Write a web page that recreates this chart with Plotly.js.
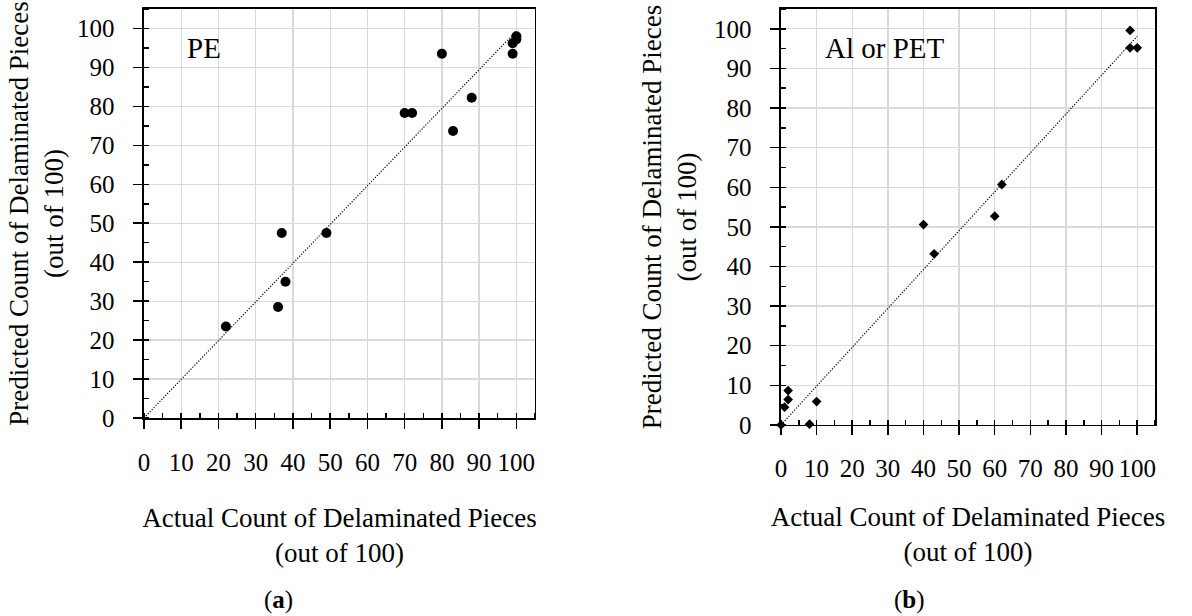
<!DOCTYPE html>
<html>
<head>
<meta charset="utf-8">
<script src="https://cdn.plot.ly/plotly-3.0.1.min.js"></script>
<style>html,body{margin:0;padding:0;background:#fff;}#chart{width:1192px;height:616px;}</style>
</head>
<body>
<div id="chart"></div>
<script>
// Panel (a): PE
const peActual    = [22, 36, 37, 38, 49, 70, 72, 80, 83, 88, 99, 99, 100, 100];
const pePredicted = [23.5, 28.5, 47.5, 35, 47.5, 78.3, 78.3, 93.5, 73.7, 82.2, 93.5, 96.2, 97.2, 98];
// Panel (b): Al or PET
const alActual    = [0, 1, 2, 2, 8, 10, 40, 43, 60, 62, 98, 98, 100];
const alPredicted = [0, 4.5, 6.4, 8.7, 0.2, 5.9, 50.6, 43.2, 52.7, 60.7, 99.6, 95.2, 95.2];
const tickValues = [0, 10, 20, 30, 40, 50, 60, 70, 80, 90, 100];
const tickLabels = ["0", "10", "20", "30", "40", "50", "60", "70", "80", "90", "100"];
const xTitle = "Actual Count of Delaminated Pieces<br>(out of 100)";
const yTitle = "Predicted Count of Delaminated Pieces<br>(out of 100)";
const panelLabels = ["PE", "Al or PET"];
const panelLetters = ["(<b>a</b>)", "(<b>b</b>)"];

// linear trendline through origin, fitted from the data
function fitLine(xs, ys) {
  let sxy = 0, sxx = 0;
  for (let i = 0; i < xs.length; i++) { sxy += xs[i] * ys[i]; sxx += xs[i] * xs[i]; }
  const k = sxy / sxx;
  const xmax = Math.max(...xs);
  return { x: [0, xmax], y: [0, k * xmax] };
}
const fitA = fitLine(peActual, pePredicted);
const fitB = fitLine(alActual, alPredicted);

const FONT = "Liberation Serif, Times New Roman, serif";

const traces = [
  { x: fitA.x, y: fitA.y, xaxis: 'x', yaxis: 'y', mode: 'lines', cliponaxis: false,
    line: { color: '#000', width: 1.2, dash: '1.2px,1.6px' }, hoverinfo: 'skip' },
  { x: peActual, y: pePredicted, xaxis: 'x', yaxis: 'y', mode: 'markers', cliponaxis: false,
    marker: { symbol: 'circle', size: 10, color: '#000' }, name: 'PE' },
  { x: fitB.x, y: fitB.y, xaxis: 'x2', yaxis: 'y2', mode: 'lines', cliponaxis: false,
    line: { color: '#000', width: 1.2, dash: '1.2px,1.6px' }, hoverinfo: 'skip' },
  { x: alActual, y: alPredicted, xaxis: 'x2', yaxis: 'y2', mode: 'markers', cliponaxis: false,
    marker: { symbol: 'diamond', size: 7.5, color: '#000' }, name: 'Al or PET' }
];

function xAxis(domain, anchor, standoff) {
  return {
    domain: domain, anchor: anchor, range: [0, 105],
    tickmode: 'array', tickvals: tickValues, ticktext: tickLabels,
    ticks: 'outside', ticklen: 9, tickwidth: 1.5, tickcolor: '#000',
    minor: { dtick: 5, tick0: 0, ticks: 'inside', ticklen: 5, tickwidth: 1.5, tickcolor: '#000', showgrid: false },
    ticklabelstandoff: 12,
    showgrid: true, gridcolor: '#d9d9d9', gridwidth: 1.3,
    zeroline: false, showline: true, linecolor: '#000', linewidth: 1.5, mirror: true,
    tickfont: { family: FONT, size: 25, color: '#000' },
    title: { text: xTitle, font: { family: FONT, size: 27, color: '#000' }, standoff: standoff },
    automargin: false, fixedrange: true
  };
}
function yAxis(domain, anchor, standoff) {
  return {
    domain: domain, anchor: anchor, range: [0, 105],
    tickmode: 'array', tickvals: tickValues, ticktext: tickLabels,
    ticks: 'outside', ticklen: 9, tickwidth: 1.5, tickcolor: '#000',
    minor: { dtick: 5, tick0: 0, ticks: 'inside', ticklen: 5, tickwidth: 1.5, tickcolor: '#000', showgrid: false },
    ticklabelstandoff: 14,
    showgrid: true, gridcolor: '#d9d9d9', gridwidth: 1.3,
    zeroline: false, showline: true, linecolor: '#000', linewidth: 1.5, mirror: true,
    tickfont: { family: FONT, size: 25, color: '#000' },
    title: { text: yTitle, font: { family: FONT, size: 27, color: '#000' }, standoff: standoff },
    automargin: false, fixedrange: true
  };
}

const layout = {
  width: 1192, height: 616,
  margin: { l: 0, r: 0, t: 0, b: 0 },
  paper_bgcolor: '#fff', plot_bgcolor: '#fff',
  showlegend: false,
  font: { family: FONT, color: '#000' },
  xaxis: xAxis([0.1208, 0.4488], 'y', 33),
  yaxis: yAxis([0.3214, 0.9854], 'x', 5),
  xaxis2: xAxis([0.6552, 0.969], 'y2', 25),
  yaxis2: yAxis([0.3101, 0.9854], 'x2', 9),
  annotations: [
    { text: panelLabels[0], xref: 'paper', yref: 'paper', x: 0.1552, y: 0.922, xanchor: 'left', yanchor: 'middle',
      showarrow: false, font: { family: FONT, size: 29, color: '#000' } },
    { text: panelLabels[1], xref: 'paper', yref: 'paper', x: 0.6904, y: 0.922, xanchor: 'left', yanchor: 'middle',
      showarrow: false, font: { family: FONT, size: 29, color: '#000' } },
    { text: panelLetters[0], xref: 'paper', yref: 'paper', x: 0.2338, y: 0.026, xanchor: 'center', yanchor: 'middle',
      showarrow: false, font: { family: FONT, size: 25, color: '#000' } },
    { text: panelLetters[1], xref: 'paper', yref: 'paper', x: 0.7634, y: 0.026, xanchor: 'center', yanchor: 'middle',
      showarrow: false, font: { family: FONT, size: 25, color: '#000' } }
  ]
};

Plotly.newPlot('chart', traces, layout, { displayModeBar: false, staticPlot: true });
</script>
</body>
</html>
